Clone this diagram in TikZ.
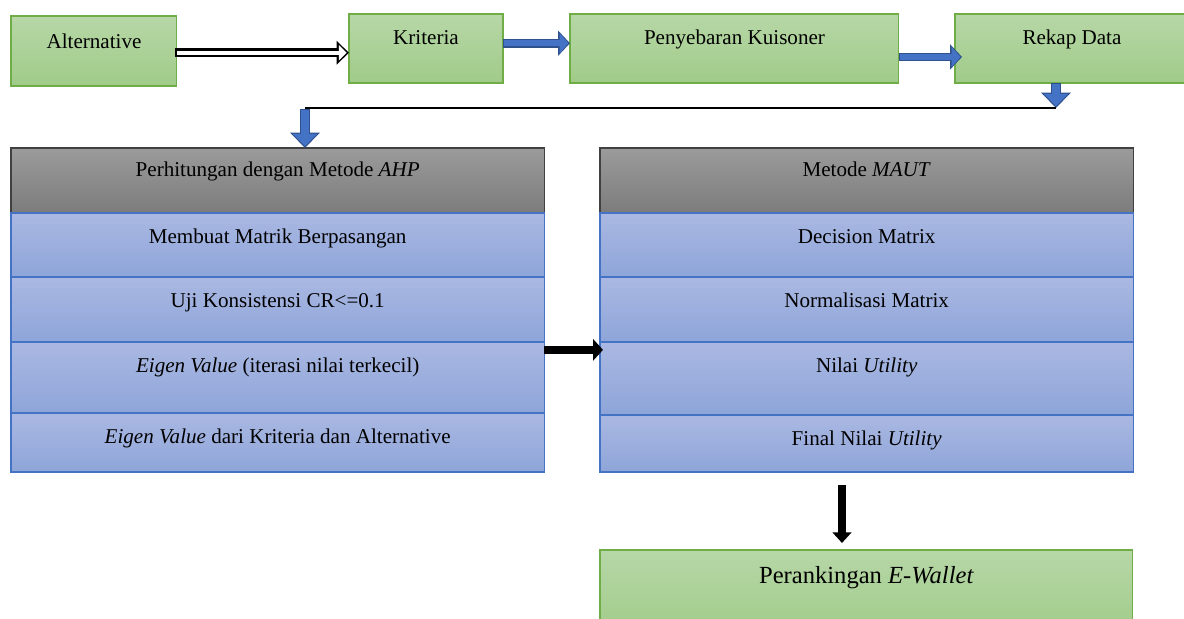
\documentclass[tikz,border=0pt]{standalone}
\usepackage{fontspec}
\setmainfont{Liberation Serif}
\usetikzlibrary{arrows.meta,positioning,calc}

\definecolor{greentop}{RGB}{183,215,167}
\definecolor{greenbot}{RGB}{160,203,137}
\definecolor{greenedge}{RGB}{112,173,71}
\definecolor{bluetop}{RGB}{170,184,226}
\definecolor{bluebot}{RGB}{142,165,217}
\definecolor{blueedge}{RGB}{68,114,196}
\definecolor{graytop}{RGB}{155,155,155}
\definecolor{graybot}{RGB}{124,124,124}
\definecolor{grayedge}{RGB}{64,64,64}
\definecolor{arrowblue}{RGB}{68,114,196}
\definecolor{arrowedge}{RGB}{47,82,143}

\begin{document}
\begin{tikzpicture}[x=0.02cm, y=-0.02cm, font=\fontsize{12}{14}\selectfont,
  greenbox/.style={draw=greenedge, top color=greentop, bottom color=greenbot, line width=0.6pt,
    inner sep=0pt, outer sep=0pt, anchor=north west},
  headbox/.style={draw=grayedge, top color=graytop, bottom color=graybot, line width=0.6pt,
    inner sep=0pt, outer sep=0pt, minimum width=10.67cm, minimum height=1.3cm, anchor=north west},
  rowbox/.style={draw=blueedge, top color=bluetop, bottom color=bluebot, line width=0.9pt,
    inner sep=0pt, outer sep=0pt, minimum width=10.67cm},
  lbl/.style={anchor=center, yshift=-13.5pt, text height=8pt, text depth=0pt, inner sep=0pt},
  hollowarrow/.style={draw=white, line width=2.4pt, shorten >=1.4pt, shorten <=1.2pt,
    -{Triangle[length=4.4pt, width=8.6pt]},
    preaction={draw=black, line width=5pt, shorten >=0pt, shorten <=0pt, -{Triangle[length=7pt, width=13pt]}}},
  bluearrow/.style={draw=arrowblue, line width=3.4pt, shorten >=0.9pt, shorten <=0.8pt,
    -{Triangle[length=5pt, width=11pt]},
    preaction={draw=arrowedge, line width=5pt, shorten >=0pt, shorten <=0pt, -{Triangle[length=6.8pt, width=14pt]}}},
  bluedown/.style={draw=arrowblue, line width=4.4pt, shorten >=1pt, shorten <=0.8pt,
    -{Triangle[length=7pt, width=13.5pt]},
    preaction={draw=arrowedge, line width=6pt, shorten >=0pt, shorten <=0pt, -{Triangle[length=8.8pt, width=16.5pt]}}},
  blackarrow/.style={draw=black, line width=4.6pt, -{Triangle[length=5.6pt, width=12pt]}},
  blackdown/.style={draw=black, line width=4.6pt, -{Triangle[length=6pt, width=10.5pt]}},
  joinline/.style={draw=black, line width=1.2pt}]

  \clip (0,0) rectangle (1184,619);

  % 1. Top row of steps
  \node[greenbox, minimum width=3.32cm, minimum height=1.4cm, label={[lbl, yshift=-1pt]north:Alternative}] (alt) at (11,16) {};
  \node[greenbox, minimum width=3.08cm, minimum height=1.38cm, label={[lbl]north:Kriteria}] (kri) at (349,14) {};
  \node[greenbox, minimum width=6.58cm, minimum height=1.38cm, label={[lbl]north:Penyebaran Kuisoner}] (kui) at (570,14) {};
  \node[greenbox, minimum width=4.68cm, minimum height=1.38cm, label={[lbl]north:Rekap Data}] (rek) at (955,14) {};

  % 2. AHP column
  \node[headbox, label={[lbl, yshift=1pt]north:Perhitungan dengan Metode \textit{AHP}}] (ahp) at (11,148) {};
  \node[rowbox, minimum height=1.28cm, below=0pt of ahp, label={[lbl]north:Membuat Matrik Berpasangan}] (pair) {};
  \node[rowbox, minimum height=1.3cm, below=0pt of pair, label={[lbl]north:Uji Konsistensi CR<=0.1}] (cr) {};
  \node[rowbox, minimum height=1.42cm, below=0pt of cr, label={[lbl]north:\textit{Eigen Value} (iterasi nilai terkecil)}] (eig) {};
  \node[rowbox, minimum height=1.18cm, below=0pt of eig, label={[lbl]north:\textit{Eigen Value} dari Kriteria dan Alternative}] (eigall) {};

  % 3. MAUT column
  \node[headbox, label={[lbl, yshift=1pt]north:Metode \textit{MAUT}}] (maut) at (600,148) {};
  \node[rowbox, minimum height=1.28cm, below=0pt of maut, label={[lbl]north:Decision Matrix}] (dec) {};
  \node[rowbox, minimum height=1.3cm, below=0pt of dec, label={[lbl]north:Normalisasi Matrix}] (norm) {};
  \node[rowbox, minimum height=1.46cm, below=0pt of norm, label={[lbl]north:Nilai \textit{Utility}}] (util) {};
  \node[rowbox, minimum height=1.14cm, below=0pt of util, label={[lbl]north:Final Nilai \textit{Utility}}] (fin) {};

  % 4. Result
  \node[greenbox, minimum width=10.66cm, minimum height=1.7cm,
        label={[lbl, yshift=-1.5pt, font=\fontsize{14}{16}\selectfont]north:Perankingan \textit{E-Wallet}}] (rank) at (600,550) {};

  % 5. Connectors
  \draw[hollowarrow] ([xshift=-1pt, yshift=-1pt]alt.east) -- ([yshift=-1pt]alt.east -| kri.west);
  \draw[bluearrow] ([yshift=3pt]kri.east) -- ([yshift=3pt]kri.east -| kui.west);
  \draw[bluearrow] ([yshift=-4.8pt]kui.east) -- ([xshift=4pt, yshift=-4.8pt]kui.east -| rek.west);

  \coordinate (jr) at (1056,108);
  \coordinate (jl) at (305,108);
  \draw[bluedown] (jr |- rek.south) -- (jr);
  \draw[joinline] (jr) -- (jl);
  \draw[bluedown] ([yshift=-0.6pt]jl) -- (jl |- ahp.north);

  \draw[blackarrow] ([yshift=-4.5pt]eig.north east) -- ([xshift=1.7pt, yshift=-4.5pt]eig.north east -| util.west);
  \coordinate (dn) at (842,485);
  \draw[blackdown, shorten >=4pt] (dn) -- (dn |- rank.north);
\end{tikzpicture}
\end{document}
